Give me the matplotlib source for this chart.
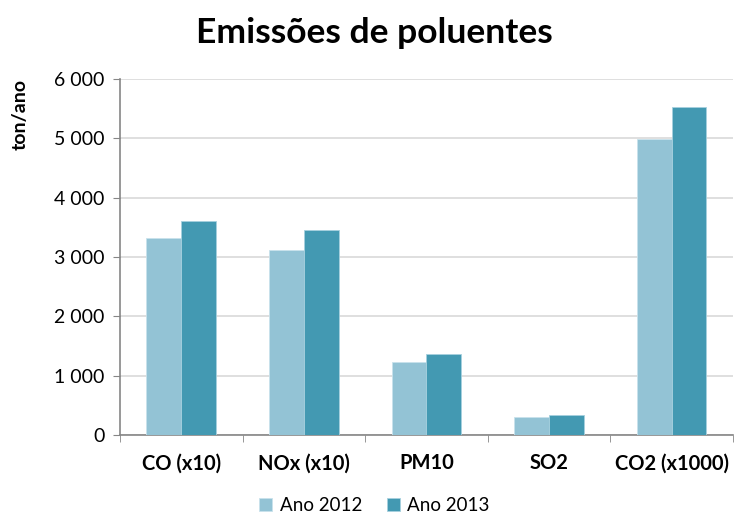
import matplotlib.pyplot as plt
import matplotlib.ticker as mticker
import numpy as np

plt.rcParams["font.family"] = ["Lato", "DejaVu Sans"]

categories = ["CO (x10)", "NOx (x10)", "PM10", "SO2", "CO2 (x1000)"]
ano_2012 = [3325, 3120, 1230, 305, 4990]
ano_2013 = [3605, 3460, 1365, 337, 5520]
yticks = [0, 1000, 2000, 3000, 4000, 5000, 6000]

c2012 = "#93c3d5"
c2013 = "#4399b2"

fig = plt.figure(figsize=(7.34, 5.18), dpi=100)
ax = fig.add_axes([0.1635, 0.16, 0.835, 0.6875])

x = np.arange(len(categories))
w = 0.284
ax.bar(x - w / 2, ano_2012, w, color=c2012, label="Ano 2012",
       edgecolor="#c9e2ec", linewidth=0.6, zorder=3)
ax.bar(x + w / 2, ano_2013, w, color=c2013, label="Ano 2013",
       edgecolor="#a6d0de", linewidth=0.6, zorder=3)

ax.set_xlim(-0.5, len(categories) - 0.5)
ax.set_ylim(0, 6000)
ax.set_yticks(yticks)
ax.yaxis.set_major_formatter(mticker.FuncFormatter(
    lambda v, p: f"{int(v):,}".replace(",", " ")))
ax.grid(axis="y", color="#d9d9d9", linewidth=1.2, zorder=0)

ax.set_xticks(x)
ax.set_xticklabels(categories, fontweight="bold", fontsize=14.5)
ax.set_xticks(np.arange(-0.5, len(categories)), minor=True)
ax.tick_params(axis="x", which="major", length=0, pad=13)
ax.tick_params(axis="x", which="minor", length=5, color="#868686")
ax.tick_params(axis="y", length=5, color="#868686", labelsize=14, pad=6)

for s in ["top", "right"]:
    ax.spines[s].set_visible(False)
for s in ["left", "bottom"]:
    ax.spines[s].set_color("#868686")
    ax.spines[s].set_linewidth(1.2)

fig.text(0.51, 0.936, "Emissões de poluentes", ha="center", va="center",
         fontsize=25.5, fontweight="bold")
fig.text(0.028, 0.778, "ton/ano", rotation=90, ha="center", va="center",
         fontsize=14, fontweight="bold")

fig.legend(loc="lower center", bbox_to_anchor=(0.51, -0.025), ncol=2,
           frameon=False, fontsize=13.5, handlelength=0.7, handleheight=0.7,
           columnspacing=1.3, handletextpad=0.4)

plt.savefig("out.png", dpi=100)
